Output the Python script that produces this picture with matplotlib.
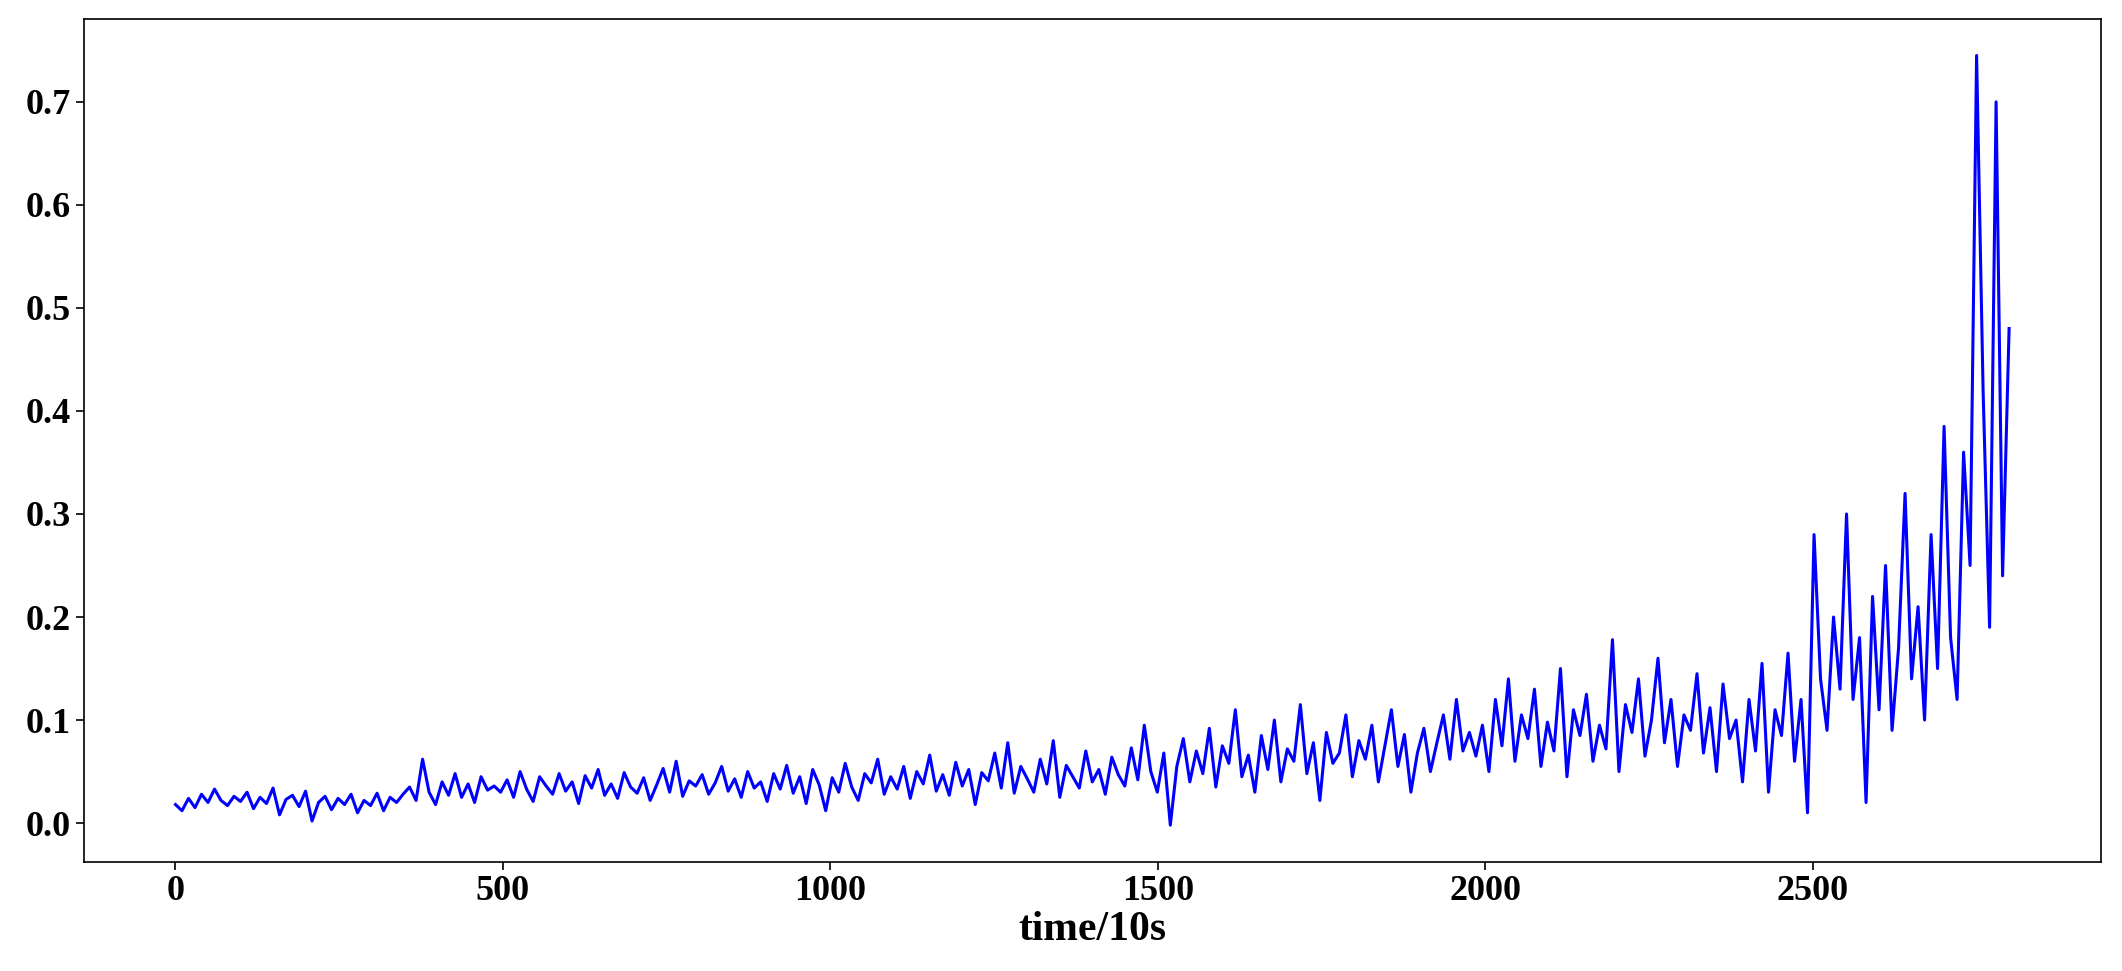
import numpy as np
import matplotlib
matplotlib.use("Agg")
import matplotlib.pyplot as plt

plt.rcParams['font.family'] = ['Liberation Serif', 'DejaVu Serif']
plt.rcParams['font.weight'] = 'bold'

seg1 = [0.018,0.012,0.024,0.015,0.028,0.020,0.033,0.022,0.017,0.026,
0.021,0.030,0.014,0.025,0.019,0.034,0.008,0.023,0.027,0.016,
0.031,0.002,0.020,0.026,0.013,0.024,0.018,0.028,0.010,0.022,
0.017,0.029,0.012,0.025,0.020]
seg2 = [0.028,0.035,0.022,0.062,0.030,0.018,0.040,0.027,0.048,0.025,
0.038,0.020,0.045,0.032,0.036]
seg3 = [0.030,0.042,0.025,0.050,0.033,0.021,0.045,0.036,0.028,0.048,
0.031,0.040,0.019,0.046,0.034,0.052,0.027,0.038,0.024,0.049,
0.035,0.029,0.044,0.022,0.037,0.053,0.030,0.060,0.026,0.041,
0.036,0.047,0.028,0.039,0.055,0.031,0.043,0.025,0.050,0.034,
0.040,0.021,0.048,0.033,0.056,0.029,0.045,0.019,0.052,0.037]
seg4 = [0.012,0.044,0.030,0.058,0.035,0.022,0.048,0.039,0.062,0.028,
0.045,0.033,0.055,0.024,0.050,0.038,0.066,0.031,0.047,0.027,
0.059,0.036,0.052,0.018,0.049,0.041,0.068,0.034,0.078,0.029,
0.055,0.043,0.030,0.062,0.038,0.080,0.025,0.056,0.045,0.034,
0.070,0.040,0.052,0.028,0.064,0.047,0.036,0.073,0.042,0.095]
seg5 = [0.050,0.030,0.068,-0.002,0.055,0.082,0.040,0.070,0.048,0.092,
0.035,0.075,0.058,0.110,0.045,0.066,0.030,0.085,0.052,0.100,
0.040,0.072,0.060,0.115,0.048,0.078,0.022,0.088,0.058,0.068,
0.105,0.045,0.080,0.062,0.095,0.040,0.075,0.110,0.055,0.086,
0.030,0.068,0.092,0.050,0.078,0.105,0.062,0.120,0.070,0.088]
seg6 = [0.065,0.095,0.050,0.120,0.075,0.140,0.060,0.105,0.082,0.130,
0.055,0.098,0.070,0.150,0.045,0.110,0.085,0.125,0.060,0.095,
0.072,0.178,0.050,0.115,0.088,0.140,0.065,0.100,0.160,0.078,
0.120,0.055,0.105,0.090,0.145,0.068,0.112,0.050,0.135,0.082,
0.100,0.040,0.120,0.070,0.155,0.030,0.110,0.085,0.165,0.060]
seg7 = [0.120,0.010,0.280,0.140,0.090,0.200,0.130,0.300,0.120,0.180,
0.020,0.220,0.110,0.250,0.090,0.170,0.320,0.140,0.210,0.100,
0.280,0.150,0.385,0.180,0.120,0.360,0.250,0.745,0.420,0.190,
0.700,0.240,0.480]

values = np.array(seg1+seg2+seg3+seg4+seg5+seg6+seg7)
time = np.linspace(0, 2800, len(values))

fig = plt.figure(figsize=(21.22, 9.71), dpi=100)
ax = fig.add_axes([0.0395, 0.112, 0.9505, 0.868])
ax.plot(time, values, color='blue', linewidth=2.2)
ax.set_xticks([0, 500, 1000, 1500, 2000, 2500])
ax.set_yticks([0.0, 0.1, 0.2, 0.3, 0.4, 0.5, 0.6, 0.7])
ax.set_ylim(-0.038, 0.78)
ax.tick_params(labelsize=26, length=6, width=1.2)
for l in ax.get_xticklabels()+ax.get_yticklabels():
    l.set_fontweight('bold')
ax.set_xlabel('time/10s', fontsize=30, fontweight='bold', labelpad=2)
for s in ax.spines.values():
    s.set_linewidth(1.2)
fig.savefig('out.png', dpi=100)
